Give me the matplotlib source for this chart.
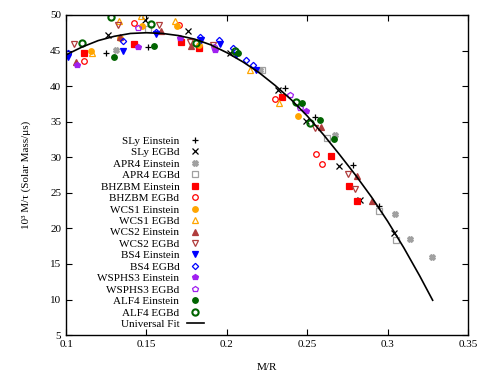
import matplotlib
matplotlib.use("Agg")
import matplotlib.pyplot as plt
from matplotlib.ticker import MultipleLocator, FuncFormatter

plt.rcParams['font.family'] = ['Liberation Serif', 'DejaVu Serif']
plt.rcParams['font.size'] = 8

# --- data (M/R, 10^3 M/tau) ---
sly_ein_x = [0.125, 0.151, 0.2364, 0.2547, 0.2784, 0.2944]
sly_ein_y = [44.6, 45.5, 39.7, 35.6, 28.9, 23.1]
sly_egb_x = [0.126, 0.149, 0.176, 0.202, 0.2318, 0.249, 0.2697, 0.2826, 0.304]
sly_egb_y = [47.2, 49.3, 47.7, 44.6, 39.4, 35.1, 28.8, 24.0, 19.4]

apr4_ein_x = [0.131, 0.2205, 0.267, 0.3043, 0.3137, 0.3275]
apr4_ein_y = [45.1, 42.3, 33.1, 22.0, 18.5, 16.0]
apr4_egb_x = [0.1507, 0.222, 0.262, 0.2946, 0.305]
apr4_egb_y = [48.0, 42.2, 32.7, 22.5, 18.4]

bhz_ein_x = [0.111, 0.142, 0.1712, 0.1828, 0.234, 0.265, 0.276, 0.281]
bhz_ein_y = [44.6, 45.9, 46.2, 45.4, 38.5, 30.2, 26.0, 23.9]
bhz_egb_x = [0.111, 0.142, 0.170, 0.2298, 0.2556, 0.2594]
bhz_egb_y = [43.5, 48.8, 48.6, 38.2, 30.4, 29.0]

wcs1_ein_x = [0.1155, 0.1335, 0.147, 0.1687, 0.1828, 0.244]
wcs1_ein_y = [44.9, 46.8, 48.5, 48.5, 45.8, 35.8]
wcs1_egb_x = [0.116, 0.1327, 0.1467, 0.1677, 0.2143, 0.2325]
wcs1_egb_y = [44.6, 49.2, 49.9, 49.1, 42.3, 37.6]

wcs2_ein_x = [0.106, 0.1335, 0.159, 0.1776, 0.2588, 0.281, 0.2905]
wcs2_ein_y = [43.4, 46.9, 47.7, 45.6, 34.3, 27.4, 23.9]
wcs2_egb_x = [0.105, 0.132, 0.158, 0.177, 0.1915, 0.2547, 0.2753, 0.280]
wcs2_egb_y = [45.9, 48.6, 48.6, 46.2, 45.8, 34.1, 27.6, 25.6]

bs4_ein_x = [0.101, 0.1354, 0.1557, 0.1838, 0.196, 0.2054, 0.218]
bs4_ein_y = [44.1, 44.9, 47.3, 46.5, 45.9, 44.4, 42.3]
bs4_egb_x = [0.101, 0.1354, 0.1557, 0.183, 0.195, 0.204, 0.212, 0.2163]
bs4_egb_y = [44.7, 46.3, 47.6, 46.9, 46.5, 45.3, 43.7, 42.9]

wsp_ein_x = [0.107, 0.145, 0.171, 0.1927, 0.249]
wsp_ein_y = [43.0, 45.5, 46.7, 45.1, 36.5]
wsp_egb_x = [0.145, 0.192, 0.239, 0.2453]
wsp_egb_y = [48.1, 45.5, 38.8, 36.9]

alf4_ein_x = [0.1298, 0.1548, 0.207, 0.2467, 0.258, 0.2664]
alf4_ein_y = [44.1, 45.7, 44.6, 37.6, 35.2, 32.5]
alf4_egb_x = [0.110, 0.128, 0.153, 0.181, 0.205, 0.2428, 0.252]
alf4_egb_y = [46.1, 49.7, 48.7, 46.0, 45.0, 37.7, 34.8]

fit_x = [0.100, 0.110, 0.120, 0.130, 0.140, 0.150, 0.160, 0.170, 0.180, 0.190,
         0.200, 0.210, 0.220, 0.230, 0.240, 0.250, 0.260, 0.270, 0.280, 0.290,
         0.300, 0.310, 0.320, 0.328]
fit_y = [44.4, 45.5, 46.4, 47.0, 47.4, 47.5, 47.4, 47.1, 46.6, 45.8,
         44.7, 43.4, 41.9, 40.1, 38.1, 35.8, 33.2, 30.4, 27.5, 24.4,
         21.0, 17.3, 13.3, 9.9]

gray = '#a0a0a0'
red = '#ff0000'
orange = '#ffa500'
brown = '#b03c3c'
blue = '#0000ff'
purple = '#a020f0'
green = '#006400'

series = [
    (sly_ein_x, sly_ein_y, 'SLy Einstein', '+', 'black', True),
    (sly_egb_x, sly_egb_y, 'SLy EGBd', 'x', 'black', True),
    (apr4_ein_x, apr4_ein_y, 'APR4 Einstein', 'X', gray, True),
    (apr4_egb_x, apr4_egb_y, 'APR4 EGBd', 's', gray, False),
    (bhz_ein_x, bhz_ein_y, 'BHZBM Einstein', 's', red, True),
    (bhz_egb_x, bhz_egb_y, 'BHZBM EGBd', 'o', red, False),
    (wcs1_ein_x, wcs1_ein_y, 'WCS1 Einstein', 'o', orange, True),
    (wcs1_egb_x, wcs1_egb_y, 'WCS1 EGBd', '^', orange, False),
    (wcs2_ein_x, wcs2_ein_y, 'WCS2 Einstein', '^', brown, True),
    (wcs2_egb_x, wcs2_egb_y, 'WCS2 EGBd', 'v', brown, False),
    (bs4_ein_x, bs4_ein_y, 'BS4 Einstein', 'v', blue, True),
    (bs4_egb_x, bs4_egb_y, 'BS4 EGBd', 'D', blue, False),
    (wsp_ein_x, wsp_ein_y, 'WSPHS3 Einstein', 'p', purple, True),
    (wsp_egb_x, wsp_egb_y, 'WSPHS3 EGBd', 'p', purple, False),
    (alf4_ein_x, alf4_ein_y, 'ALF4 Einstein', 'o', green, True),
    (alf4_egb_x, alf4_egb_y, 'ALF4 EGBd', 'o', green, False),
]

fig = plt.figure(figsize=(4.86, 3.74), dpi=100)
ax = fig.add_axes([0.136, 0.104, 0.827, 0.856])

for xs, ys, lab, mk, col, filled in series:
    ms = 4
    if mk == 'D':
        ms = 3.2
    if mk in ('+', 'x'):
        ms = 4.5
    mew = 0.9
    if lab == 'ALF4 EGBd':
        mew = 1.5
        ms = 4.5
    ax.plot(xs, ys, linestyle='none', marker=mk, markersize=ms,
            color=col, markerfacecolor=(col if filled else 'none'),
            markeredgewidth=mew, label=lab)

ax.plot(fit_x, fit_y, color='black', linewidth=1.2, label='Universal Fit')

ax.set_xlim(0.1, 0.35)
ax.set_ylim(5, 50)
ax.xaxis.set_major_locator(MultipleLocator(0.05))
ax.yaxis.set_major_locator(MultipleLocator(5))
ax.xaxis.set_major_formatter(FuncFormatter(lambda v, p: f'{v:g}'))
ax.tick_params(direction='in', top=True, right=True, length=4, width=0.8, labelsize=8)
for s in ax.spines.values():
    s.set_linewidth(1.0)

ax.set_xlabel('M/R', fontsize=8, labelpad=10)
ax.set_ylabel('10³ M/τ (Solar Mass/μs)', fontsize=8, labelpad=14)

ax.legend(loc='lower right', bbox_to_anchor=(0.348, 0.012), frameon=False,
          markerfirst=False, fontsize=8, labelspacing=0.15, handlelength=1.5,
          handletextpad=0.7, borderpad=0.2, borderaxespad=0)

fig.savefig('out.png', dpi=100)
